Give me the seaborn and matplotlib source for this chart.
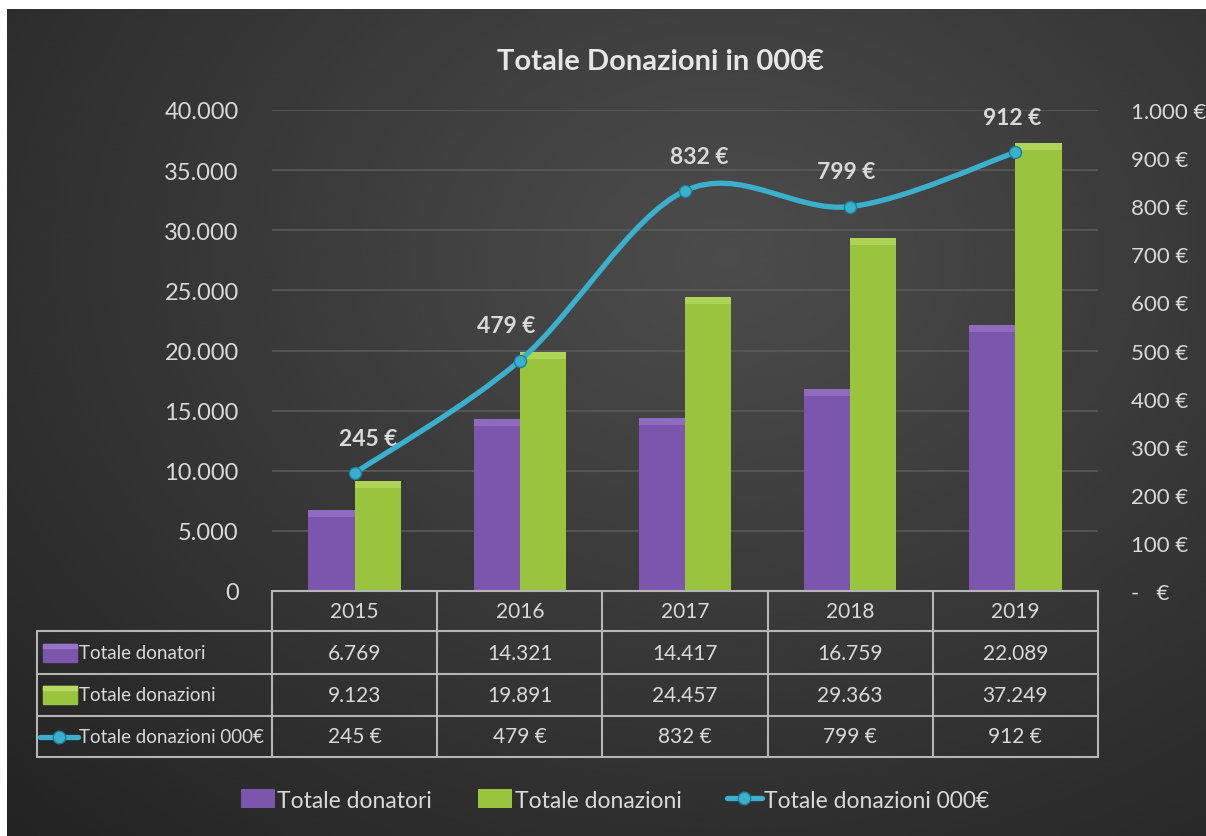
import numpy as np
import pandas as pd
import matplotlib
matplotlib.use("Agg")
import matplotlib.pyplot as plt
import matplotlib.ticker as mticker
from matplotlib.path import Path
from matplotlib.patches import PathPatch, Patch, Rectangle
from matplotlib.lines import Line2D
from matplotlib.transforms import blended_transform_factory
import seaborn as sns

# data
years = ["2015", "2016", "2017", "2018", "2019"]
donatori = [6769, 14321, 14417, 16759, 22089]
donazioni = [9123, 19891, 24457, 29363, 37249]
donazioni_k = [245, 479, 832, 799, 912]
series_names = ["Totale donatori", "Totale donazioni", "Totale donazioni 000€"]
title = "Totale Donazioni in 000€"

PURPLE = "#7b56ac"
PURPLE_TOP = "#9774c8"
GREEN = "#9ac43e"
GREEN_TOP = "#b6da62"
CYAN = "#3ab0cc"
CYAN_EDGE = "#1d7f99"
TXT = "#d9d9d9"
GRID = "#5a5a5a"
TABLE_LINE = "#b5b5b5"

W, H = 1206, 837


def it_num(v):
    return f"{v:,.0f}".replace(",", ".")


def euro(v):
    return "-   €" if v == 0 else f"{it_num(v)} €"


def fy(ypx):
    return 1 - ypx / H


sns.set_theme(style="dark")
plt.rcParams["font.family"] = ["Lato", "DejaVu Sans"]

fig = plt.figure(figsize=(W / 100, H / 100), dpi=100)
fig.patch.set_facecolor("white")

# dark radial background
bg = fig.add_axes([7 / W, 0, 1 - 7 / W, 1 - 10 / H])
yy, xx = np.mgrid[0:1:300j, 0:1:400j]
r = np.sqrt(((xx - 0.6) / 0.8) ** 2 + ((yy - 0.3) / 0.9) ** 2)
shade = np.clip(0.30 - 0.15 * r, 0.14, 0.31)
bg.imshow(shade, cmap="gray", vmin=0, vmax=1, aspect="auto", interpolation="bicubic")
bg.axis("off")

ax = fig.add_axes([272 / W, fy(592), 826 / W, 481 / H])
ax.set_facecolor("none")

df = pd.DataFrame({
    "anno": years * 2,
    "serie": [series_names[0]] * 5 + [series_names[1]] * 5,
    "valore": donatori + donazioni,
})
sns.barplot(data=df, x="anno", y="valore", hue="serie", palette=[PURPLE, GREEN],
            width=0.56, gap=0, saturation=1, legend=False, ax=ax, zorder=3,
            edgecolor="none", linewidth=0)

ax.set_xlim(-0.5, 4.5)
ax.set_ylim(0, 40000)
ax.set_yticks(np.arange(0, 40001, 5000))
ax.yaxis.set_major_formatter(mticker.FuncFormatter(lambda v, p: it_num(v)))
ax.set_xticks([])
ax.set_xlabel("")
ax.set_ylabel("")
ax.grid(axis="y", color=GRID, lw=1.2)
ax.tick_params(axis="y", colors=TXT, labelsize=17, pad=24, length=0)
for s in ax.spines.values():
    s.set_visible(False)

# soft bevel on top of each bar
bevel = 40000 * 7 / 481
for p in list(ax.patches):
    top_col = PURPLE_TOP if p.get_facecolor()[0] < 0.55 else GREEN_TOP
    x0, w, h = p.get_x(), p.get_width(), p.get_height()
    ax.add_patch(Rectangle((x0, h - bevel), w, bevel, color=top_col, lw=0,
                           zorder=4, alpha=0.7))

ax2 = ax.twinx()
ax2.set_ylim(0, 1000)
ax2.set_yticks(np.arange(0, 1001, 100))
ax2.yaxis.set_major_formatter(mticker.FuncFormatter(lambda v, p: euro(v)))
ax2.tick_params(axis="y", colors=TXT, labelsize=16, pad=24, length=0)
ax2.grid(False)
for s in ax2.spines.values():
    s.set_visible(False)

# smoothed line (Catmull-Rom as cubic bezier, like Excel's smooth line)
pts = [(i, v) for i, v in enumerate(donazioni_k)]
verts = [pts[0]]
codes = [Path.MOVETO]
n = len(pts)
for i in range(n - 1):
    p0 = pts[max(i - 1, 0)]
    p1 = pts[i]
    p2 = pts[i + 1]
    p3 = pts[min(i + 2, n - 1)]
    c1 = (p1[0] + (p2[0] - p0[0]) / 6, p1[1] + (p2[1] - p0[1]) / 6)
    c2 = (p2[0] - (p3[0] - p1[0]) / 6, p2[1] - (p3[1] - p1[1]) / 6)
    verts += [c1, c2, p2]
    codes += [Path.CURVE4] * 3
ax2.add_patch(PathPatch(Path(verts, codes), fill=False, edgecolor=CYAN, lw=3.8,
                        capstyle="round", zorder=4))
sns.scatterplot(x=list(range(n)), y=donazioni_k, ax=ax2, color=CYAN, s=75,
                edgecolor=CYAN_EDGE, linewidth=1, zorder=5)
ax2.set_xlim(-0.5, 4.5)

nudges = [10, -10, 10, -3, -2]
for i, v in enumerate(donazioni_k):
    ax2.annotate(f"{v} €", (i, v), xytext=(nudges[i], 25), textcoords="offset points",
                 ha="center", va="center", fontsize=16.5, fontweight="bold", color=TXT)

# data table under the plot
bt = blended_transform_factory(ax.transData, fig.transFigure)
row_edges = [592, 632, 675, 717, 758]
fig.add_artist(Line2D([-0.5, 4.5], [fy(592)] * 2, transform=bt, color=TABLE_LINE, lw=1.5))
for y in row_edges[1:]:
    fig.add_artist(Line2D([37 / W, 272 / W], [fy(y)] * 2, color=TABLE_LINE, lw=1.5))
    fig.add_artist(Line2D([-0.5, 4.5], [fy(y)] * 2, transform=bt, color=TABLE_LINE, lw=1.5))
for b in np.arange(-0.5, 5, 1):
    fig.add_artist(Line2D([b, b], [fy(592), fy(758)], transform=bt, color=TABLE_LINE, lw=1.5))
fig.add_artist(Line2D([37 / W, 37 / W], [fy(632), fy(758)], color=TABLE_LINE, lw=1.5))

rows = [
    [it_num(v) for v in donatori],
    [it_num(v) for v in donazioni],
    [f"{v} €" for v in donazioni_k],
]
for i, yr in enumerate(years):
    fig.text(i, fy(612), yr, transform=bt, ha="center", va="center", fontsize=15, color=TXT)
for r_i, vals in enumerate(rows):
    yc = fy((row_edges[r_i + 1] + row_edges[r_i + 2]) / 2)
    for i, s in enumerate(vals):
        fig.text(i, yc, s, transform=bt, ha="center", va="center", fontsize=15, color=TXT)
    fig.text(79 / W, yc, series_names[r_i], ha="left", va="center", fontsize=13.5, color=TXT)

# row-label keys
for r_i, (col, top) in enumerate([(PURPLE, PURPLE_TOP), (GREEN, GREEN_TOP)]):
    yc = (row_edges[r_i + 1] + row_edges[r_i + 2]) / 2
    fig.add_artist(Rectangle((43 / W, fy(yc + 9)), 34 / W, 18 / H, color=col,
                             transform=fig.transFigure))
    fig.add_artist(Rectangle((43 / W, fy(yc - 5)), 34 / W, 4 / H, color=top,
                             transform=fig.transFigure))
yc = fy((row_edges[3] + row_edges[4]) / 2)
fig.add_artist(Line2D([40 / W, 78 / W], [yc, yc], color=CYAN, lw=3.8))
fig.add_artist(Line2D([59 / W], [yc], marker="o", ms=9, color=CYAN, mec=CYAN_EDGE))

fig.text(660 / W, fy(62), title, ha="center", va="center", fontsize=21,
         fontweight="bold", color="#e6e6e6")

handles = [
    Patch(facecolor=PURPLE, edgecolor="none"),
    Patch(facecolor=GREEN, edgecolor="none"),
    Line2D([0], [0], color=CYAN, lw=3.8, marker="o", ms=9, mec=CYAN_EDGE),
]
fig.legend(handles, series_names, loc="center", bbox_to_anchor=(615 / W, fy(801)),
           ncol=3, frameon=False, fontsize=16.5, labelcolor=TXT, handlelength=1.5,
           handleheight=0.85, handletextpad=0.1, columnspacing=2.0)

fig.savefig("out.png", dpi=100, facecolor=fig.get_facecolor())
